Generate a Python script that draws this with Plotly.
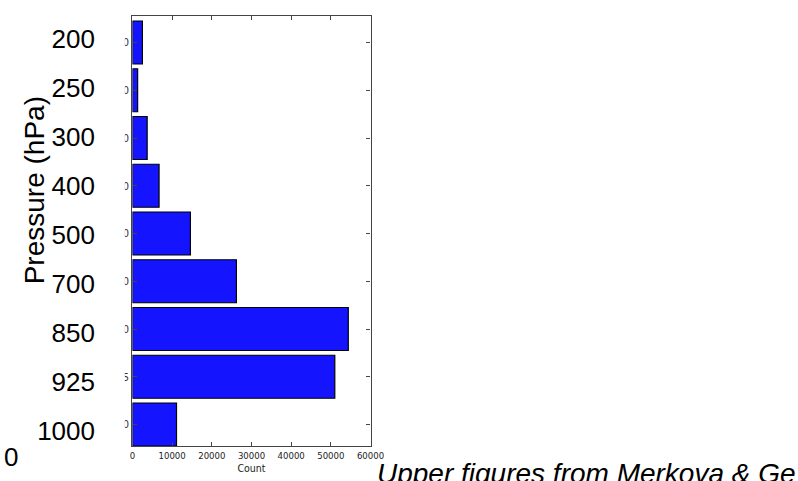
import plotly.graph_objects as go

# ---- data ----
levels = ["200", "250", "300", "400", "500", "700", "850", "925", "1000"]
counts = [2500, 1300, 3700, 6700, 14600, 26200, 54400, 51000, 11100]
x_ticks = [0, 10000, 20000, 30000, 40000, 50000, 60000]
y_title = "Pressure (hPa)"
x_title = "Count"
note = "Upper figures from Merkova & Ge"
stray = "0"

W, H = 798, 481
def px(x):
    return x / W
def py(y):
    return (H - y) / H

fig = go.Figure()
fig.add_trace(go.Bar(
    orientation="h", x=counts, y=levels, width=0.9,
    marker=dict(color="#1414ff", line=dict(color="#000000", width=1.2)),
    hoverinfo="skip", showlegend=False,
))
# invisible trace carrying the large level labels
fig.add_trace(go.Scatter(
    x=[0] * len(levels), y=list(range(len(levels))), yaxis="y2",
    mode="markers", marker=dict(opacity=0), hoverinfo="skip", showlegend=False,
))

axis_line = "#444444"
narrow = "Liberation Sans Narrow, DejaVu Sans Condensed, sans-serif"
sans = "Liberation Sans, Arial, sans-serif"
fig.update_layout(
    width=W, height=H, autosize=False,
    margin=dict(l=0, r=0, t=0, b=0),
    paper_bgcolor="white", plot_bgcolor="rgba(0,0,0,0)",
    font=dict(family=sans, color="black"),
    xaxis=dict(
        domain=[px(132.3), px(375.5)], range=[0, 60000], autorange=False,
        tickmode="array", tickvals=x_ticks, ticktext=[str(v) for v in x_ticks],
        ticks="inside", ticklen=4, tickcolor=axis_line, mirror="ticks",
        showline=True, linecolor=axis_line, linewidth=1.3,
        showgrid=False, zeroline=False,
        tickfont=dict(family=narrow, size=9.5, color="#222"),
        title=dict(text=x_title, standoff=5, font=dict(family=narrow, size=10.5, color="#222")),
        anchor="y",
    ),
    yaxis=dict(
        domain=[py(446), py(16)], type="category", categoryorder="array",
        categoryarray=levels, range=[8.45, -0.555], autorange=False,
        ticks="inside", ticklen=4, tickcolor=axis_line, mirror="ticks",
        showline=True, linecolor=axis_line, linewidth=1.3,
        showgrid=False, zeroline=False,
        tickfont=dict(family=narrow, size=11, color="#333"),
        anchor="x",
    ),
    yaxis2=dict(
        domain=[py(455.5), py(14.5)], range=[8.5, -0.5], autorange=False,
        tickmode="array", tickvals=list(range(len(levels))), ticktext=levels,
        anchor="free", position=px(94), side="left",
        showline=False, showgrid=False, zeroline=False, ticks="",
        tickfont=dict(family=sans, size=26, color="black"),
    ),
    shapes=[dict(type="rect", xref="paper", yref="paper", layer="above",
                 x0=px(96), x1=px(124.5), y0=py(450), y1=py(12),
                 fillcolor="white", line=dict(width=0))],
    annotations=[
        dict(text=y_title, textangle=-90, x=px(32), y=py(190), xref="paper", yref="paper",
             xanchor="center", yanchor="middle", showarrow=False,
             font=dict(family=sans, size=28, color="black")),
        dict(text=note, x=px(380), y=py(473.5), xref="paper", yref="paper",
             xanchor="left", yanchor="middle", showarrow=False,
             font=dict(family=sans, size=28, color="black", style="italic")),
        dict(text=stray, x=px(-1), y=py(456.5), xref="paper", yref="paper",
             xanchor="left", yanchor="middle", showarrow=False,
             font=dict(family=sans, size=26, color="black")),
    ],
)

fig.write_html("out.html", config={"displayModeBar": False},
               post_script="document.body.style.margin='0';document.body.style.overflow='hidden';")
